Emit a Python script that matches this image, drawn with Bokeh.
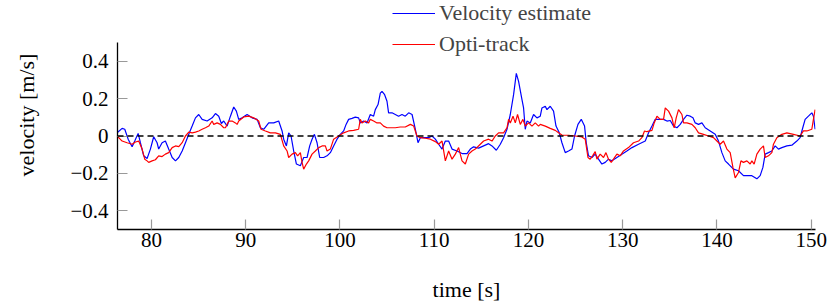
from bokeh.plotting import figure
from bokeh.models import Range1d, Span, Legend, LegendItem, FixedTicker
from bokeh.embed import file_html
from bokeh.resources import INLINE

# Velocity estimate (blue)
t_est = [76.36, 76.89, 77.17, 77.53, 77.95, 78.23, 78.59, 78.83, 79.18, 79.54,
         79.89, 80.24, 80.60, 80.77, 81.13, 81.48, 81.83, 82.20, 82.55, 82.90,
         83.26, 83.61, 83.96, 84.32, 84.67, 85.02, 85.38, 85.91, 86.44, 86.79,
         87.14, 87.42, 87.67, 88.03, 88.38, 88.73, 89.01, 89.26, 89.62, 90.15,
         90.68, 91.21, 91.56, 91.91, 92.44, 92.97, 93.50, 93.86, 94.03, 94.32,
         94.56, 94.81, 95.09, 95.38, 95.80, 96.15, 96.51, 96.79, 97.04, 97.29,
         97.57, 97.85, 98.27, 98.63, 98.98, 99.33, 99.69, 100.04, 100.39, 100.65,
         100.92, 101.28, 101.63, 101.98, 102.16, 102.51, 102.87, 103.22, 103.57, 103.75,
         104.04, 104.28, 104.46, 104.74, 104.99, 105.16, 105.52, 105.87, 106.22, 106.58,
         106.93, 107.29, 107.65, 108.00, 108.28, 108.53, 108.88, 109.41, 109.77, 110.12,
         110.47, 110.83, 111.18, 111.53, 111.89, 112.42, 112.95, 113.48, 113.83, 114.18,
         114.71, 115.24, 115.77, 116.13, 116.59, 117.01, 117.36, 117.72, 118.07, 118.42,
         118.71, 118.95, 119.31, 119.48, 119.66, 119.84, 120.19, 120.54, 120.90, 121.25,
         121.43, 121.78, 121.96, 122.31, 122.66, 122.92, 123.27, 123.55, 123.90, 124.25,
         124.61, 124.89, 125.25, 125.60, 125.95, 126.13, 126.37, 126.73, 127.08, 127.43,
         127.79, 128.14, 128.49, 128.85, 129.38, 129.91, 130.44, 130.98, 131.68, 132.39,
         132.74, 133.10, 133.45, 133.80, 134.33, 134.69, 135.04, 135.39, 135.75, 136.10,
         136.45, 136.81, 137.16, 137.45, 137.69, 138.04, 138.40, 138.75, 139.28, 139.81,
         140.16, 140.52, 140.87, 141.22, 141.75, 142.28, 142.81, 143.17, 143.70, 144.23,
         144.58, 144.87, 145.11, 145.46, 145.82, 146.17, 146.52, 146.88, 147.41, 147.94,
         148.47, 148.82, 149.10, 149.35, 149.70, 150.06, 150.23, 150.41]
v_est = [0.017, 0.041, 0.036, -0.017, -0.057, -0.027, 0.014, -0.036, -0.106, -0.120,
         -0.070, -0.004, -0.036, -0.070, -0.036, -0.027, -0.070, -0.115, -0.133, -0.115,
         -0.080, -0.036, 0.009, 0.053, 0.097, 0.115, 0.089, 0.080, 0.097, 0.120,
         0.106, 0.067, 0.080, 0.053, 0.106, 0.155, 0.133, 0.089, 0.097, 0.115,
         0.097, 0.089, 0.044, 0.036, 0.070, 0.070, 0.080, 0.027, -0.017, -0.053,
         0.017, 0.000, -0.080, -0.150, -0.159, -0.115, -0.115, -0.053, -0.017, 0.009,
         -0.036, -0.115, -0.115, -0.106, -0.089, -0.053, -0.017, 0.009, 0.027, 0.062,
         0.089, 0.094, 0.101, 0.097, 0.070, 0.080, 0.070, 0.115, 0.106, 0.141,
         0.168, 0.229, 0.239, 0.221, 0.186, 0.124, 0.124, 0.115, 0.106, 0.115,
         0.106, 0.124, 0.115, 0.036, -0.036, -0.009, -0.009, -0.009, 0.000, -0.017,
         -0.044, -0.070, -0.027, -0.027, -0.070, -0.080, -0.094, -0.094, -0.070, -0.058,
         -0.065, -0.053, -0.041, -0.053, -0.076, -0.044, -0.009, 0.036, 0.115, 0.221,
         0.335, 0.292, 0.195, 0.150, 0.036, 0.080, 0.070, 0.115, 0.097, 0.106,
         0.150, 0.159, 0.141, 0.159, 0.133, 0.053, 0.017, -0.036, -0.089, -0.080,
         -0.070, 0.000, 0.062, 0.089, 0.053, -0.036, -0.106, -0.115, -0.097, -0.124,
         -0.150, -0.141, -0.124, -0.133, -0.115, -0.097, -0.080, -0.062, -0.044, -0.027,
         0.017, 0.053, 0.089, 0.089, 0.089, 0.080, 0.083, 0.053, 0.044, 0.062,
         0.089, 0.111, 0.106, 0.097, 0.070, 0.062, 0.070, 0.044, 0.027, 0.009,
         -0.027, -0.089, -0.133, -0.150, -0.177, -0.186, -0.212, -0.212, -0.212, -0.229,
         -0.212, -0.168, -0.097, -0.089, -0.080, -0.053, -0.070, -0.062, -0.053, -0.049,
         -0.027, -0.009, 0.044, 0.089, 0.106, 0.124, 0.106, 0.036]

# Opti-track (red)
t_opti = [76.36, 76.89, 77.42, 77.95, 78.30, 78.65, 79.01, 79.29, 79.54, 79.71,
          80.07, 80.42, 80.77, 81.13, 81.48, 81.83, 82.20, 82.55, 82.90, 83.26,
          83.61, 83.96, 84.32, 84.67, 85.02, 85.38, 85.73, 86.08, 86.44, 86.61,
          86.97, 87.32, 87.67, 87.85, 88.20, 88.56, 88.91, 89.09, 89.26, 89.79,
          90.32, 90.85, 91.38, 91.63, 92.09, 92.62, 93.15, 93.68, 94.03, 94.39,
          94.56, 94.92, 95.27, 95.51, 95.80, 95.98, 96.15, 96.44, 96.68, 97.04,
          97.39, 97.75, 98.10, 98.45, 98.63, 98.98, 99.33, 99.86, 100.39, 100.92,
          101.45, 101.98, 102.16, 102.34, 102.69, 103.04, 103.22, 103.57, 103.93, 104.28,
          104.63, 104.99, 105.34, 105.87, 106.40, 106.93, 107.47, 107.82, 108.17, 108.53,
          109.06, 109.59, 110.12, 110.47, 110.83, 111.18, 111.53, 111.89, 112.24, 112.59,
          112.95, 113.30, 113.65, 114.01, 114.36, 114.89, 115.24, 115.77, 116.13, 116.48,
          116.83, 117.36, 117.72, 117.89, 118.07, 118.36, 118.60, 118.84, 119.13, 119.41,
          119.66, 120.01, 120.37, 120.72, 121.07, 121.25, 121.78, 122.31, 122.84, 123.19,
          123.55, 124.25, 124.96, 125.67, 126.02, 126.31, 126.55, 126.80, 127.08, 127.26,
          127.61, 127.96, 128.22, 128.49, 128.78, 129.02, 129.38, 129.73, 130.08, 130.61,
          131.14, 131.68, 132.03, 132.31, 132.56, 133.10, 133.34, 133.63, 133.98, 134.33,
          134.51, 134.86, 135.22, 135.46, 135.67, 135.92, 136.28, 136.45, 136.81, 137.34,
          137.69, 138.04, 138.57, 139.10, 139.63, 139.99, 140.34, 140.69, 141.05, 141.40,
          141.69, 141.93, 142.28, 142.54, 142.81, 143.17, 143.52, 143.70, 143.94, 144.23,
          144.58, 144.93, 145.11, 145.46, 145.82, 145.99, 146.35, 146.88, 147.41, 148.11,
          148.82, 149.17, 149.53, 150.06, 150.23, 150.41]
v_opti = [0.000, -0.027, -0.036, -0.044, -0.032, -0.027, -0.070, -0.124, -0.133, -0.141,
          -0.133, -0.127, -0.106, -0.110, -0.097, -0.089, -0.062, -0.053, -0.057, -0.036,
          0.000, 0.021, 0.017, 0.021, 0.027, 0.036, 0.044, 0.053, 0.080, 0.062,
          0.070, 0.062, 0.044, 0.044, 0.080, 0.080, 0.070, 0.062, 0.080, 0.102,
          0.106, 0.097, 0.080, 0.036, 0.027, 0.017, 0.017, 0.009, -0.053, -0.080,
          -0.115, -0.097, -0.089, -0.106, -0.089, -0.141, -0.177, -0.150, -0.133, -0.097,
          -0.080, -0.062, -0.053, -0.053, -0.080, -0.070, -0.017, 0.000, 0.017, 0.027,
          0.030, 0.036, 0.089, 0.070, 0.080, 0.070, 0.089, 0.080, 0.070, 0.070,
          0.053, 0.044, 0.044, 0.044, 0.048, 0.048, 0.062, 0.053, 0.000, -0.009,
          -0.012, -0.017, -0.030, -0.044, -0.027, -0.133, -0.080, -0.124, -0.097, -0.062,
          -0.133, -0.150, -0.097, -0.080, -0.070, -0.044, -0.027, -0.017, -0.027, 0.000,
          0.017, 0.017, 0.044, 0.089, 0.070, 0.106, 0.070, 0.115, 0.062, 0.089,
          0.053, 0.070, 0.053, 0.070, 0.053, 0.062, 0.053, 0.041, 0.030, 0.017,
          0.005, 0.004, 0.000, -0.005, -0.017, -0.115, -0.124, -0.106, -0.083, -0.124,
          -0.097, -0.115, -0.089, -0.124, -0.141, -0.124, -0.097, -0.106, -0.080, -0.062,
          -0.036, -0.027, -0.009, 0.027, 0.023, 0.030, 0.070, 0.106, 0.089, 0.089,
          0.150, 0.133, 0.097, 0.044, 0.097, 0.141, 0.115, 0.070, 0.070, 0.062,
          0.044, 0.017, 0.009, 0.000, -0.009, -0.027, -0.044, -0.027, -0.070, -0.089,
          -0.168, -0.224, -0.195, -0.133, -0.141, -0.133, -0.150, -0.133, -0.150, -0.097,
          -0.070, -0.053, -0.115, -0.106, -0.089, -0.044, -0.009, 0.009, 0.017, 0.009,
          0.000, 0.027, 0.027, 0.036, 0.089, 0.141]

x_ticks = [80, 90, 100, 110, 120, 130, 140, 150]
y_ticks = [-0.4, -0.2, 0.0, 0.2, 0.4]
y_tick_labels = ["\u22120.4", "\u22120.2", "0", "0.2", "0.4"]
y_axis_bounds = (-0.5, 0.5)

FONT = "Liberation Serif"
FS_TICK = "21px"
FS_LABEL = "22px"

# the frame reaches the top of the canvas so the legend (which sits above the
# axis box in the reference) is not clipped; the y axis itself is bounded to [-0.5, 0.5]
p = figure(width=834, height=307, output_backend="svg", toolbar_location=None,
           x_range=Range1d(76.4, 150.45), y_range=Range1d(-0.5, 0.7246),
           min_border_left=117, min_border_right=19, min_border_top=0, min_border_bottom=78)
p.outline_line_color = None
p.grid.visible = False
p.background_fill_color = "white"
p.border_fill_color = "white"

for ax in (p.xaxis[0], p.yaxis[0]):
    ax.axis_line_color = "black"
    ax.axis_line_width = 1.3
    ax.major_tick_line_color = "#999999"
    ax.major_tick_line_width = 1.2
    ax.major_tick_in = 10
    ax.major_tick_out = 0
    ax.minor_tick_line_color = None
    ax.major_label_text_font = FONT
    ax.major_label_text_font_size = FS_TICK
    ax.major_label_text_color = "black"
    ax.axis_label_text_font = FONT
    ax.axis_label_text_font_size = FS_LABEL
    ax.axis_label_text_font_style = "normal"
    ax.axis_label_text_color = "black"

p.xaxis[0].ticker = FixedTicker(ticks=x_ticks)
p.yaxis[0].ticker = FixedTicker(ticks=y_ticks)
p.yaxis[0].bounds = y_axis_bounds
p.yaxis[0].major_label_overrides = dict(zip(y_ticks, y_tick_labels))
p.xaxis[0].axis_label = "time [s]"
p.yaxis[0].axis_label = "velocity [m/s]"
p.xaxis[0].major_label_standoff = 3
p.xaxis[0].axis_label_standoff = 27
p.yaxis[0].major_label_standoff = 9
p.yaxis[0].axis_label_standoff = 28

p.add_layout(Span(location=0, dimension="width", line_color="black",
                  line_width=1.3, line_dash="6 4"))

r1 = p.line(t_est, v_est, line_color="#0000ff", line_width=1.2)
r2 = p.line(t_opti, v_opti, line_color="#ff0000", line_width=1.2)

legend = Legend(items=[LegendItem(label="Velocity estimate", renderers=[r1]),
                       LegendItem(label="Opti-track", renderers=[r2])],
                location=(275, 172), orientation="vertical",
                label_text_font=FONT, label_text_font_size=FS_LABEL,
                glyph_width=43, glyph_height=20, label_height=26,
                label_standoff=4, spacing=5, padding=0, margin=0,
                border_line_color=None, background_fill_alpha=0)
p.add_layout(legend, "center")

open("out.html", "w").write(file_html(p, INLINE))
